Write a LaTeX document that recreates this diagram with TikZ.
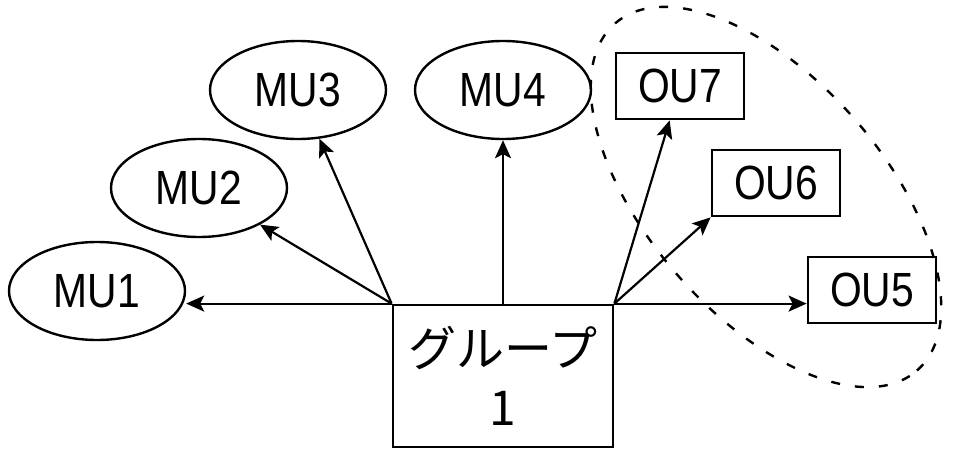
\documentclass[tikz,border=0pt]{standalone}
\usepackage{fontspec}
\setmainfont{Liberation Sans}
\newfontfamily\labelfont[FakeStretch=0.85]{Liberation Sans}
\newfontfamily\jpfont{Noto Sans CJK JP}
\usepackage{tikz}
\usetikzlibrary{arrows.meta}
\usetikzlibrary{shapes.geometric}

\tikzset{
  mustate/.style={ellipse, draw, line width=1.2pt, minimum width=88pt,
    minimum height=49pt, inner sep=0pt, font=\labelfont\fontsize{24}{28}\selectfont},
  oubox/.style={rectangle, draw, line width=1.4pt, minimum width=64pt,
    minimum height=33pt, inner sep=0pt, font=\labelfont\fontsize{24}{28}\selectfont},
  groupbox/.style={rectangle, draw, line width=1.4pt, minimum width=110pt,
    minimum height=71pt, align=center, font=\jpfont\fontsize{24}{29.5}\selectfont},
}

\begin{document}
\begin{tikzpicture}[->, >={Stealth[length=9pt, width=8pt, inset=2pt]}, line width=1.1pt,
    x=0.5pt, y=-0.5pt]
    \useasboundingbox (0,0) rectangle (958,449);

    % Group
    \node[groupbox] (grp) at (503,376) {グループ\\1};

    % MU nodes
    \node[mustate] (mu1) at (97,291) {MU1}; %
    \node[mustate] (mu2) at (199,188) {MU2}; %
    \node[mustate] (mu3) at (298,90) {MU3}; %
    \node[mustate] (mu4) at (503,90) {MU4};

    % OU nodes
    \node[oubox] (ou7) at (680,86) {OU7}; %
    \node[oubox] (ou6) at (776,183) {OU6}; %
    \node[oubox] (ou5) at (872,290) {OU5};

    \draw (grp.north west) -- (grp.north west -| mu1.east);
    \draw (grp.north west) -- (mu2);
    \draw (grp.north west) -- (mu3);
    \draw (grp.north) -- (mu4);
    \draw (grp.north east) -- (ou7);
    \draw (grp.north east) -- (ou6.south west);
    \draw (grp.north east) -- (grp.north east -| ou5.west);

    % Outline round the OU nodes
    \draw[-, line width=1.2pt, dash pattern=on 4.5pt off 7.5pt,
      rotate around={-49:(766,197)}] (766,197) ellipse [x radius=115pt, y radius=59pt];

\end{tikzpicture}
\end{document}
